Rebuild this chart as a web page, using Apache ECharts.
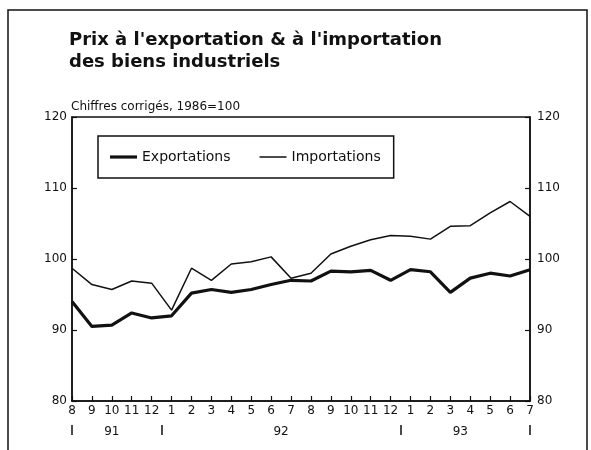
<!DOCTYPE html>
<html>
<head>
<meta charset="utf-8">
<script src="https://cdn.jsdelivr.net/npm/echarts@6/dist/echarts.min.js"></script>
<style>
  html, body { margin: 0; padding: 0; background: #fff; }
  #chart { width: 591px; height: 450px; }
</style>
</head>
<body>
<div id="chart"></div>
<script>
// months 8/91 .. 7/93
const months = ['8', '9', '10', '11', '12', '1', '2', '3', '4', '5', '6', '7',
  '8', '9', '10', '11', '12', '1', '2', '3', '4', '5', '6', '7'];
const exportations = [94.0, 90.5, 90.7, 92.4, 91.7, 92.0, 95.2, 95.7, 95.3, 95.7, 96.4, 97.0,
  96.9, 98.3, 98.2, 98.4, 97.0, 98.5, 98.2, 95.3, 97.3, 98.0, 97.6, 98.5];
const importations = [98.7, 96.4, 95.7, 96.9, 96.6, 92.8, 98.7, 97.0, 99.3, 99.6, 100.3, 97.3,
  98.0, 100.7, 101.8, 102.7, 103.3, 103.2, 102.8, 104.6, 104.7, 106.5, 108.1, 106.0];
// year labels sit between month positions (index along the month axis)
const years = ['91', '92', '93'];
const yearCenters = [2, 10.5, 19.5];
const yearBreaks = [0, 4.5, 16.5, 23];

const ink = '#111';
const font = 'DejaVu Sans';

let myChart = echarts.init(document.getElementById('chart'), null, { renderer: 'canvas' });

let yAxisBase = {
  type: 'value',
  min: 80,
  max: 120,
  interval: 10,
  splitLine: { show: false },
  axisLine: { show: true, lineStyle: { color: ink, width: 1.5 } },
  axisTick: { show: true, inside: true, length: 5, lineStyle: { color: ink, width: 1.2 } },
  axisLabel: { color: ink, fontFamily: font, fontSize: 12 }
};

let option = {
  backgroundColor: '#fff',
  animation: false,
  title: [{
    text: 'Prix à l\'exportation & à l\'importation\ndes biens industriels',
    left: 64,
    top: 24,
    textStyle: { color: ink, fontFamily: font, fontWeight: 'bold', fontSize: 18, lineHeight: 22 }
  }, {
    text: 'Chiffres corrigés, 1986=100',
    left: 66,
    top: 96,
    textStyle: { color: ink, fontFamily: font, fontWeight: 'normal', fontSize: 12 }
  }],
  legend: {
    orient: 'horizontal',
    left: 98,
    top: 136,
    padding: [14, 13, 14, 12],
    borderColor: ink,
    borderWidth: 1.5,
    itemWidth: 27,
    itemHeight: 14,
    itemGap: 29,
    data: [
      { name: 'Exportations', icon: 'path://M0,0H27V3.2H0Z' },
      { name: 'Importations', icon: 'path://M0,0H27V1.5H0Z' }
    ],
    textStyle: { color: ink, fontFamily: font, fontSize: 14 }
  },
  grid: {
    left: 72,
    right: 61,
    top: 117,
    bottom: 49,
    show: true,
    borderColor: ink,
    borderWidth: 1.5,
    containLabel: false
  },
  xAxis: [{
    type: 'category',
    data: months,
    boundaryGap: false,
    axisLine: { show: true, lineStyle: { color: ink, width: 1.5 } },
    axisTick: { show: true, inside: true, length: 5, alignWithLabel: true, lineStyle: { color: ink, width: 1.2 } },
    axisLabel: { color: ink, fontFamily: font, fontSize: 12, margin: 4, interval: 0 },
    splitLine: { show: false }
  }, {
    type: 'value',
    min: 0,
    max: 23,
    position: 'bottom',
    offset: 24,
    axisLine: { show: false },
    splitLine: { show: false },
    axisTick: { show: true, customValues: yearBreaks, length: 10, lineStyle: { color: ink, width: 1.5 } },
    axisLabel: {
      color: ink, fontFamily: font, fontSize: 12, margin: 1,
      customValues: yearCenters,
      formatter: function (val) {
        let i = yearCenters.indexOf(val);
        return i >= 0 ? years[i] : '';
      }
    }
  }],
  yAxis: [
    Object.assign({}, yAxisBase, { position: 'left', axisLabel: Object.assign({}, yAxisBase.axisLabel, { margin: 5 }) }),
    Object.assign({}, yAxisBase, { position: 'right', axisLabel: Object.assign({}, yAxisBase.axisLabel, { margin: 7 }) })
  ],
  series: [{
    name: 'Exportations',
    type: 'line',
    data: exportations,
    symbol: 'none',
    lineStyle: { color: ink, width: 3.2 },
    itemStyle: { color: ink }
  }, {
    name: 'Importations',
    type: 'line',
    data: importations,
    symbol: 'none',
    lineStyle: { color: ink, width: 1.5 },
    itemStyle: { color: ink }
  }],
  graphic: [{
    type: 'polyline',
    silent: true,
    shape: { points: [[8, 450], [8, 10], [587, 10], [587, 450]] },
    style: { stroke: ink, lineWidth: 1.5, fill: null }
  }]
};

myChart.setOption(option);
</script>
</body>
</html>
